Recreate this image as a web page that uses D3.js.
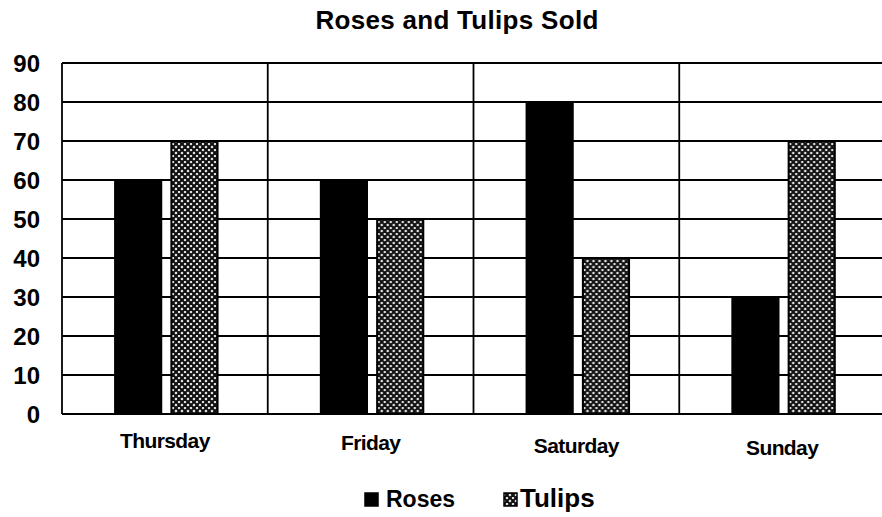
<!DOCTYPE html>
<html><head><meta charset="utf-8">
<script src="https://cdn.jsdelivr.net/npm/d3@7"></script>
<style>html,body{margin:0;padding:0;background:#fff;}svg{display:block;font-family:"Liberation Sans",Arial,sans-serif;}</style>
</head><body>
<svg id="chart" width="882" height="517"></svg>
<script>
const categories = ["Thursday", "Friday", "Saturday", "Sunday"];
const seriesNames = ["Roses", "Tulips"];
const roses = [60, 60, 80, 30];
const tulips = [70, 50, 40, 70];
const yTicks = [0, 10, 20, 30, 40, 50, 60, 70, 80, 90];
const title = "Roses and Tulips Sold";

(function () {
const svg = d3.select("#chart");
const FF = "'Liberation Sans',Arial,sans-serif";
const defs = svg.append("defs");
const pat = defs.append("pattern").attr("id", "hatch").attr("patternUnits", "userSpaceOnUse")
  .attr("width", 6).attr("height", 6);
pat.append("rect").attr("width", 6).attr("height", 6).attr("fill", "#fff");
pat.append("path").attr("d", "M0,0 L6,6 M6,0 L0,6 M-3,3 L3,-3 M3,9 L9,3 M-3,3 L3,9 M3,-3 L9,3")
  .attr("stroke", "#111").attr("stroke-width", 2.2).attr("fill", "none");

const pLeft = 62, pRight = 885, pTop = 63, pBottom = 414;
const x0 = d3.scaleBand().domain(categories).range([pLeft, pRight]).padding(0);
const bw = x0.bandwidth();
const x1 = d3.scaleBand().domain(seriesNames).range([0.258 * bw, 0.756 * bw]).paddingInner(0.18).paddingOuter(0);
const y = d3.scaleLinear().domain([0, 90]).range([pBottom, pTop]);

// title
svg.append("text").attr("x", 457).attr("y", 29).attr("text-anchor", "middle")
  .attr("font-family", FF).attr("font-size", 26).attr("font-weight", "bold").attr("letter-spacing", "0.3px").text(title);

// horizontal grid lines
svg.append("g").selectAll("line").data(yTicks).join("line")
  .attr("x1", pLeft).attr("x2", pRight).attr("y1", d => y(d)).attr("y2", d => y(d))
  .attr("stroke", "#000").attr("stroke-width", 2.2);
// vertical grid lines at band boundaries
const bounds = categories.map(c => x0(c)).concat([pRight]);
svg.append("g").selectAll("line").data(bounds).join("line")
  .attr("x1", d => d).attr("x2", d => d).attr("y1", pTop).attr("y2", pBottom)
  .attr("stroke", "#000").attr("stroke-width", 1.8);

// y axis labels
const yAxis = d3.axisLeft(y).tickValues(yTicks).tickSize(0).tickPadding(0);
const ga = svg.append("g").attr("transform", `translate(40,0)`).call(yAxis);
ga.select(".domain").remove();
ga.selectAll("text").attr("font-size", 24).attr("font-weight", "bold").attr("fill", "#000")
  .attr("font-family", FF).attr("dy", "0.36em");

// bars
const data = categories.map((c, i) => ({cat: c, vals: [{s: "Roses", v: roses[i]}, {s: "Tulips", v: tulips[i]}]}));
const groups = svg.append("g").selectAll("g").data(data).join("g")
  .attr("transform", d => `translate(${x0(d.cat)},0)`);
groups.selectAll("rect").data(d => d.vals).join("rect")
  .attr("x", d => x1(d.s)).attr("width", x1.bandwidth())
  .attr("y", d => y(d.v)).attr("height", d => y(0) - y(d.v))
  .attr("fill", d => d.s === "Roses" ? "#000" : "url(#hatch)")
  .attr("stroke", "#000").attr("stroke-width", 2);

// x labels
const xAxis = d3.axisBottom(x0).tickSize(0).tickPadding(0);
const gx = svg.append("g").attr("transform", `translate(0,433)`).call(xAxis);
gx.select(".domain").remove();
gx.selectAll("text").attr("font-size", 21).attr("font-weight", "bold").attr("fill", "#000")
  .attr("font-family", FF).attr("letter-spacing", "-0.6px")
  .attr("transform", (d, i) => `translate(0,${i * 2.5})`);

// legend
const legend = svg.append("g");
const legItems = [{s: "Roses", x: 365, tx: 386, fs: 23}, {s: "Tulips", x: 504, tx: 520, fs: 26}];
legItems.forEach(it => {
  legend.append("rect").attr("x", it.x).attr("y", 493).attr("width", 13).attr("height", 13)
    .attr("fill", it.s === "Roses" ? "#000" : "url(#hatch)").attr("stroke", "#000").attr("stroke-width", 1.5);
  legend.append("text").attr("x", it.tx).attr("y", 507).attr("font-size", it.fs).attr("font-weight", "bold")
    .attr("font-family", FF).text(it.s);
});
})();
</script>
</body></html>
